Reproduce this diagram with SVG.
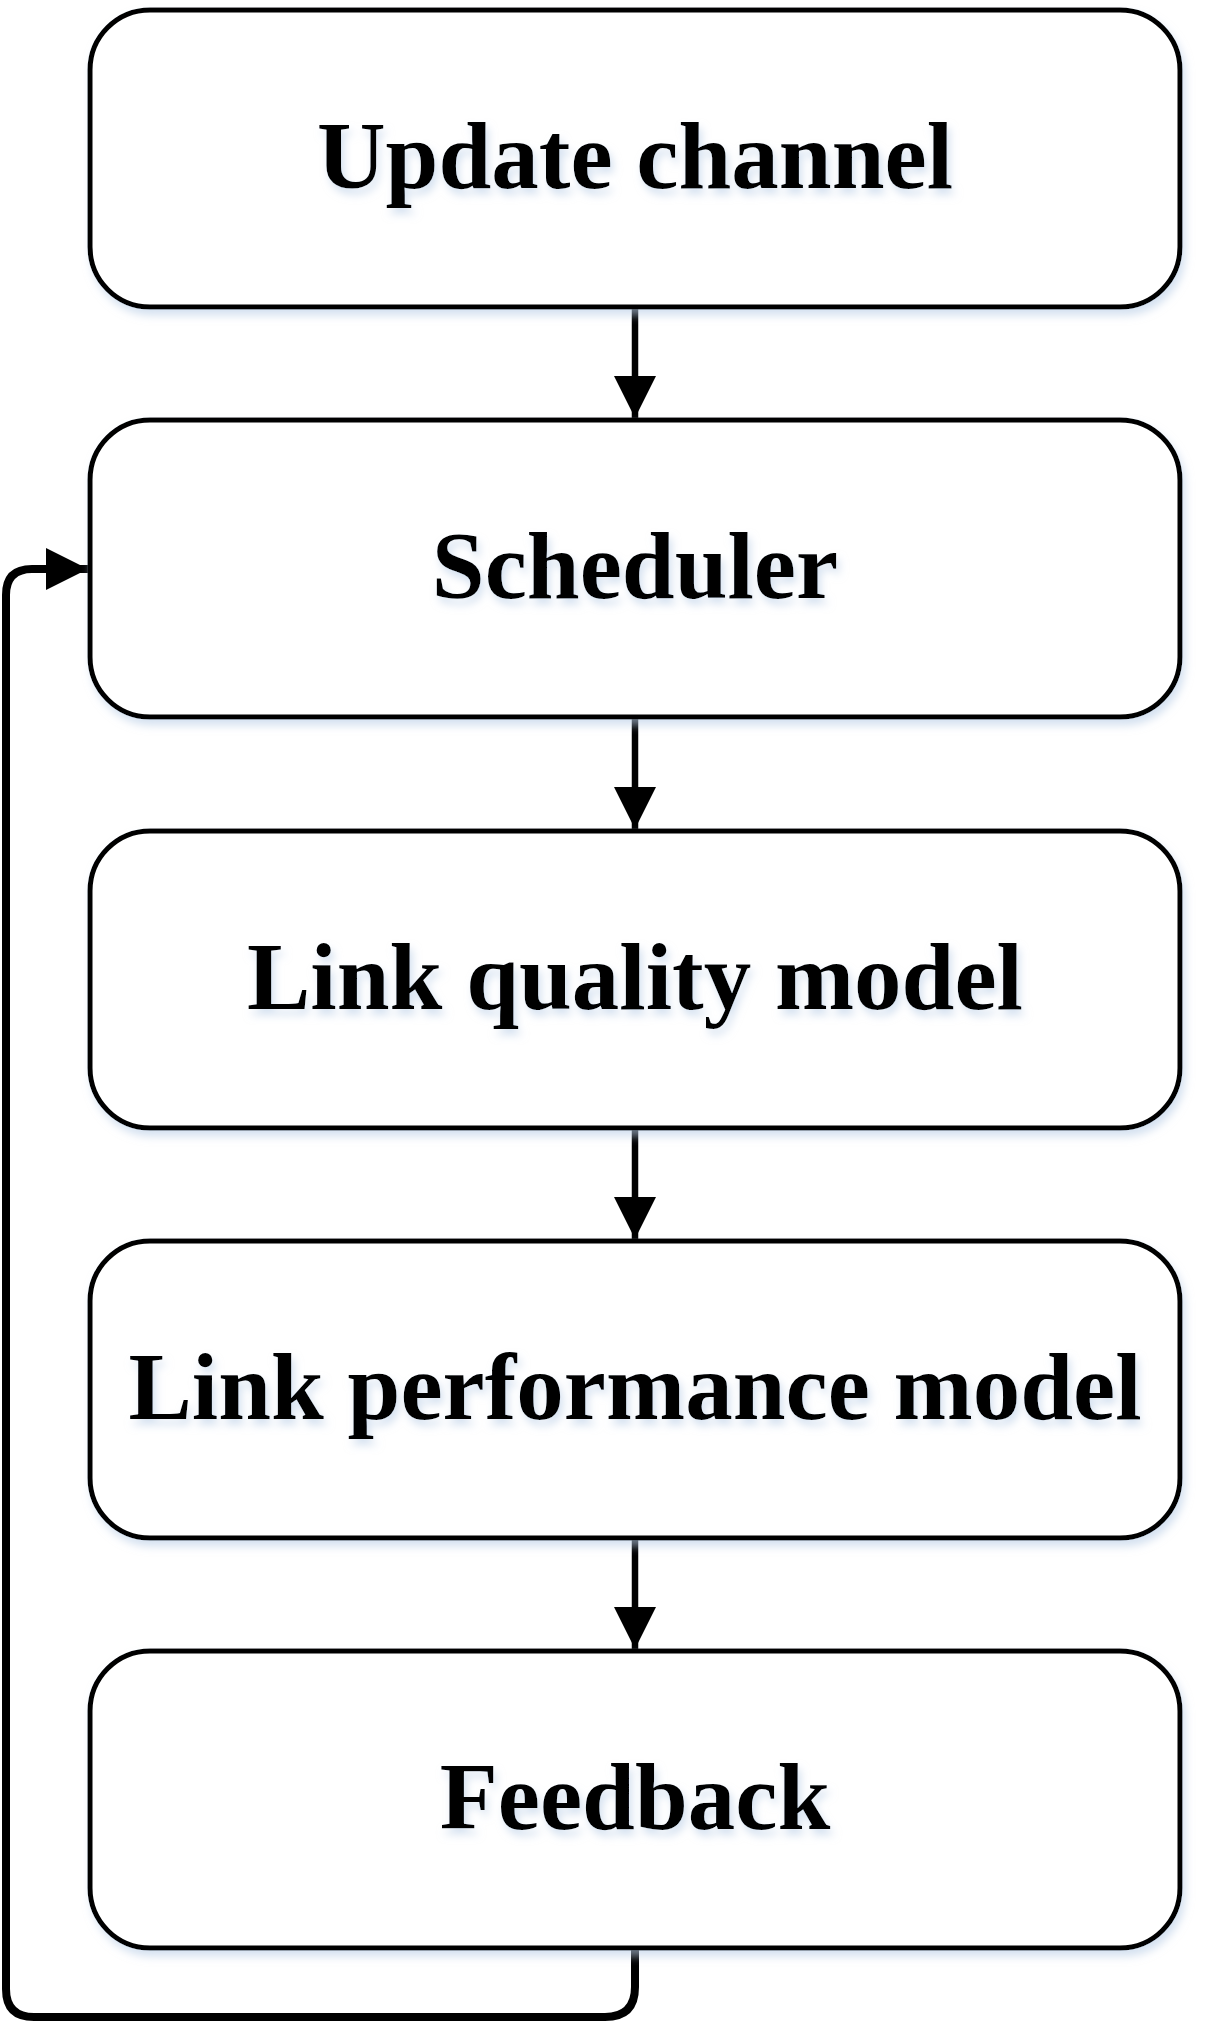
<svg xmlns="http://www.w3.org/2000/svg" width="1207" height="2023" viewBox="0 0 1207 2023">
<defs>
<filter id="sh" x="-10%" y="-10%" width="120%" height="130%">
<feDropShadow dx="3" dy="6" stdDeviation="4" flood-color="#b9cde6" flood-opacity="0.6"/>
</filter>
<marker id="ah" markerWidth="42" markerHeight="42" viewBox="0 0 42 42" refX="42" refY="21" orient="auto" markerUnits="userSpaceOnUse">
<path d="M0,0 L42,21 L0,42 Z" fill="#000"/>
</marker>
</defs>
<style>
.box{fill:#fff;stroke:#000;stroke-width:5;filter:url(#sh)}
.lbl{font-family:"Liberation Serif","Times New Roman",Times,serif;font-weight:700;font-size:95px;text-anchor:middle;fill:#000;filter:url(#sh)}
.con{fill:none;stroke:#000;stroke-width:6.5;stroke-linejoin:round}
.loop{stroke-width:8}
</style>
<rect width="1207" height="2023" fill="#fff"/>
<g id="connectors">
<line class="con" x1="635" y1="307" x2="635" y2="418" marker-end="url(#ah)"/>
<line class="con" x1="635" y1="717" x2="635" y2="829" marker-end="url(#ah)"/>
<line class="con" x1="635" y1="1128" x2="635" y2="1239" marker-end="url(#ah)"/>
<line class="con" x1="635" y1="1538" x2="635" y2="1649" marker-end="url(#ah)"/>
<path class="con loop" d="M635,1948 L635,1987 Q635,2017 605,2017 L34,2017 Q6,2017 6,1989 L6,595 Q6,569 32,569 L88,569" marker-end="url(#ah)"/>
</g>
<g id="n1"><rect class="box" x="90" y="10" width="1090" height="297" rx="60"/><text class="lbl" x="635" y="188">Update channel</text></g>
<g id="n2"><rect class="box" x="90" y="420" width="1090" height="297" rx="60"/><text class="lbl" x="635" y="598">Scheduler</text></g>
<g id="n3"><rect class="box" x="90" y="831" width="1090" height="297" rx="60"/><text class="lbl" x="635" y="1009">Link quality model</text></g>
<g id="n4"><rect class="box" x="90" y="1241" width="1090" height="297" rx="60"/><text class="lbl" x="635" y="1419">Link performance model</text></g>
<g id="n5"><rect class="box" x="90" y="1651" width="1090" height="297" rx="60"/><text class="lbl" x="635" y="1829">Feedback</text></g>
</svg>
